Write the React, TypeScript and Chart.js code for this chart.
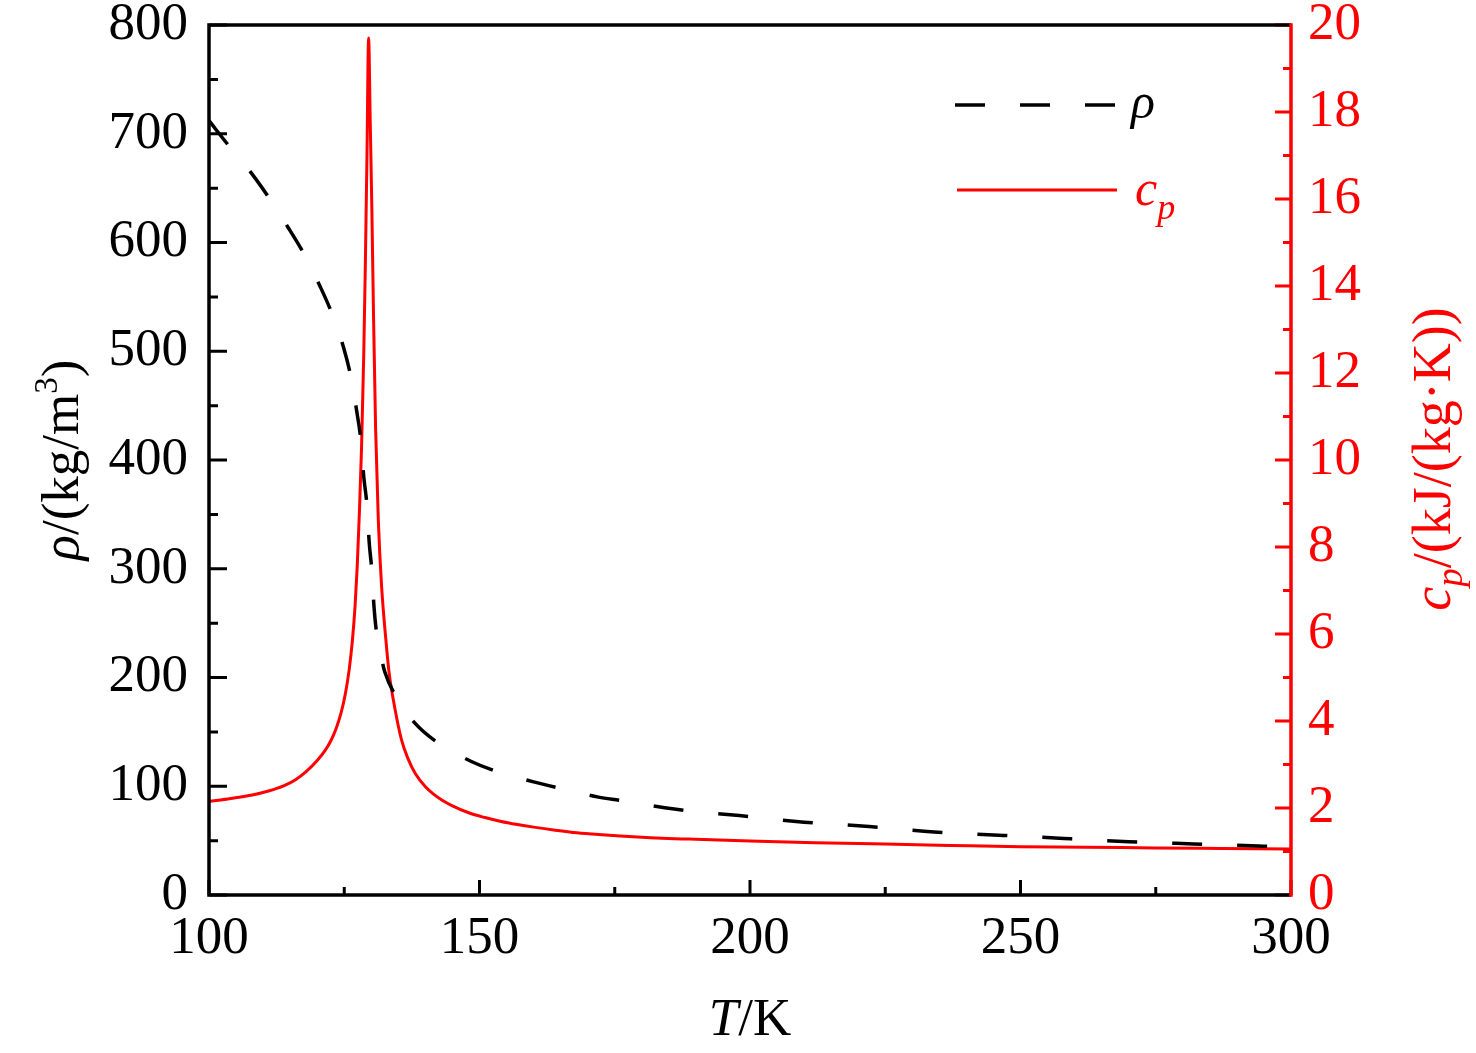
import React, { useEffect, useRef } from 'react';
import { Chart, registerables } from 'chart.js';

Chart.register(...registerables);

// density, kg/m3
const rhoTemps = [100, 103.5, 107.8, 111.1, 114.6, 117.5, 120.5, 122.7, 124.9, 126.2, 127.3, 128.1, 128.6, 129.2, 129.6, 130.1, 130.5, 131.0, 132.0, 132.5, 134.5, 137.9, 142.3, 148.4, 153.5, 160, 165, 172, 176, 186, 198, 210, 222, 234, 246, 258, 270, 282, 294, 300];
const rhoValues = [712, 690, 664, 641, 614, 590, 560, 535, 503, 477, 445, 417, 385, 358, 325, 298, 265, 240, 215, 205, 183, 159, 140, 123, 113, 104, 98, 90, 87, 79, 73, 67, 63, 58, 55, 52, 49, 47, 45, 44];

// specific heat, kJ/(kg K)
const cpTemps = [100, 104, 108, 111, 114, 116, 118, 120, 121.5, 122.5, 123.5, 124.4, 125.2, 125.9, 126.5, 127.0, 127.4, 127.8, 128.2, 128.6, 128.9, 129.2, 129.5, 129.8, 130.1, 130.4, 130.8, 131.3, 131.9, 132.7, 133.3, 134.3, 135.6, 136.8, 138.1, 140, 141.5, 143.1, 145, 148, 151, 154, 157, 160, 164, 168, 172, 180, 190, 200, 212, 225, 237, 250, 262, 275, 287, 300];
const cpValues = [2.15, 2.22, 2.3, 2.39, 2.52, 2.65, 2.84, 3.09, 3.33, 3.54, 3.83, 4.18, 4.62, 5.17, 5.84, 6.64, 7.56, 8.8, 10.3, 12.4, 14.5, 17.0, 19.7, 17.8, 15.8, 13.4, 10.7, 8.6, 7.1, 5.86, 5.1, 4.33, 3.56, 3.13, 2.8, 2.49, 2.32, 2.18, 2.05, 1.89, 1.78, 1.69, 1.62, 1.56, 1.49, 1.43, 1.39, 1.33, 1.28, 1.24, 1.2, 1.17, 1.14, 1.11, 1.1, 1.08, 1.07, 1.06];

const xTickValues = [100, 150, 200, 250, 300];
const rhoTickValues = [0, 100, 200, 300, 400, 500, 600, 700, 800];
const cpTickValues = [0, 2, 4, 6, 8, 10, 12, 14, 16, 18, 20];

const RED = '#ff0000';
const SERIF = '"Liberation Serif", "DejaVu Serif", serif';

type Part = { text: string; size: number; italic?: boolean; dy?: number };

function drawParts(ctx: CanvasRenderingContext2D, parts: Part[], x: number, y: number, center: boolean) {
    const fontOf = (p: Part) => `${p.italic ? 'italic ' : ''}${p.size}px ${SERIF}`;
    let total = 0;
    parts.forEach((p) => {
        ctx.font = fontOf(p);
        total += ctx.measureText(p.text).width;
    });
    let cx = center ? x - total / 2 : x;
    parts.forEach((p) => {
        ctx.font = fontOf(p);
        ctx.fillText(p.text, cx, y + (p.dy || 0));
        cx += ctx.measureText(p.text).width;
    });
}

const framePlugin = {
    id: 'frame',
    afterDraw(chart: any) {
        const { ctx, chartArea } = chart;
        const { left, right, top, bottom } = chartArea;
        const xs = chart.scales.x;
        const ys = chart.scales.y;
        const y1 = chart.scales.y1;
        ctx.save();
        ctx.lineCap = 'butt';
        ctx.setLineDash([]);

        // ticks, pointing inwards
        ctx.lineWidth = 3;
        ctx.strokeStyle = '#000';
        ctx.beginPath();
        for (let v = 100; v <= 300; v += 25) {
            const px = xs.getPixelForValue(v);
            const len = v % 50 === 0 ? 15 : 8;
            ctx.moveTo(px, bottom);
            ctx.lineTo(px, bottom - len);
        }
        for (let v = 0; v <= 800; v += 50) {
            const py = ys.getPixelForValue(v);
            const len = v % 100 === 0 ? 18 : 9;
            ctx.moveTo(left, py);
            ctx.lineTo(left + len, py);
        }
        ctx.stroke();
        ctx.strokeStyle = RED;
        ctx.beginPath();
        for (let v = 0; v <= 20; v += 1) {
            const py = y1.getPixelForValue(v);
            const len = v % 2 === 0 ? 16 : 8;
            ctx.moveTo(right, py);
            ctx.lineTo(right - len, py);
        }
        ctx.stroke();

        // frame
        ctx.lineWidth = 3.5;
        ctx.strokeStyle = '#000';
        ctx.beginPath();
        ctx.moveTo(right, top);
        ctx.lineTo(left, top);
        ctx.lineTo(left, bottom);
        ctx.lineTo(right, bottom);
        ctx.stroke();
        ctx.strokeStyle = RED;
        ctx.beginPath();
        ctx.moveTo(right, top - 1.75);
        ctx.lineTo(right, bottom + 1.75);
        ctx.stroke();

        // legend
        ctx.lineWidth = 3.5;
        ctx.strokeStyle = '#000';
        ctx.setLineDash([30, 35]);
        ctx.beginPath();
        ctx.moveTo(955, 105);
        ctx.lineTo(1115, 105);
        ctx.stroke();
        ctx.setLineDash([]);
        ctx.lineWidth = 3;
        ctx.strokeStyle = RED;
        ctx.beginPath();
        ctx.moveTo(957, 190);
        ctx.lineTo(1117, 190);
        ctx.stroke();

        ctx.textAlign = 'left';
        ctx.textBaseline = 'alphabetic';
        ctx.fillStyle = '#000';
        drawParts(ctx, [{ text: 'ρ', size: 50, italic: true }], 1131, 118, false);
        ctx.fillStyle = RED;
        drawParts(ctx, [
            { text: 'c', size: 50, italic: true },
            { text: 'p', size: 36, italic: true, dy: 14 },
        ], 1135, 205, false);

        // axis titles
        ctx.fillStyle = '#000';
        drawParts(ctx, [
            { text: 'T', size: 53, italic: true },
            { text: '/K', size: 53 },
        ], 750, 1035, true);

        ctx.save();
        ctx.translate(78, 460);
        ctx.rotate(-Math.PI / 2);
        drawParts(ctx, [
            { text: 'ρ', size: 53, italic: true },
            { text: '/(kg/m', size: 53 },
            { text: '3', size: 33, dy: -21 },
            { text: ')', size: 53 },
        ], 0, 0, true);
        ctx.restore();

        ctx.save();
        ctx.fillStyle = RED;
        ctx.translate(1450, 459);
        ctx.rotate(-Math.PI / 2);
        drawParts(ctx, [
            { text: 'c', size: 54, italic: true },
            { text: 'p', size: 37, italic: true, dy: 12 },
            { text: '/(kJ/(kg·K))', size: 54 },
        ], 0, 0, true);
        ctx.restore();

        ctx.restore();
    },
};

const tickFont = { family: SERIF, size: 53 };

const App: React.FC = () => {
    const chartRef = useRef<HTMLCanvasElement>(null);
    const chartInstance = useRef<Chart | null>(null);

    useEffect(() => {
        document.body.style.margin = '0';
        if (chartInstance.current) {
            chartInstance.current.destroy();
        }
        if (chartRef.current) {
            const ctx = chartRef.current.getContext('2d');
            if (ctx) {
                chartInstance.current = new Chart(ctx, {
                    type: 'scatter',
                    data: {
                        datasets: [
                            {
                                label: 'ρ',
                                data: rhoTemps.map((t, i) => ({ x: t, y: rhoValues[i] })),
                                yAxisID: 'y',
                                showLine: true,
                                borderColor: '#000',
                                borderWidth: 3.5,
                                borderDash: [30, 35],
                                pointRadius: 0,
                                cubicInterpolationMode: 'monotone',
                            },
                            {
                                label: 'cp',
                                data: cpTemps.map((t, i) => ({ x: t, y: cpValues[i] })),
                                yAxisID: 'y1',
                                showLine: true,
                                borderColor: RED,
                                borderWidth: 3,
                                pointRadius: 0,
                                cubicInterpolationMode: 'monotone',
                            },
                        ],
                    },
                    options: {
                        animation: false,
                        responsive: true,
                        maintainAspectRatio: false,
                        layout: { padding: { top: 25, left: 0, right: 0, bottom: 0 } },
                        plugins: {
                            legend: { display: false },
                            tooltip: { enabled: false },
                        },
                        scales: {
                            x: {
                                type: 'linear',
                                min: 100,
                                max: 300,
                                grid: { display: false, drawTicks: false },
                                border: { display: false },
                                ticks: { font: tickFont, color: '#000', padding: 12, maxRotation: 0 },
                                afterBuildTicks: (s: any) => {
                                    s.ticks = xTickValues.map((v) => ({ value: v }));
                                },
                                afterFit: (s: any) => {
                                    s.height = 158;
                                    s.paddingLeft = 0;
                                    s.paddingRight = 0;
                                },
                            },
                            y: {
                                type: 'linear',
                                position: 'left',
                                min: 0,
                                max: 800,
                                grid: { display: false, drawTicks: false },
                                border: { display: false },
                                ticks: { font: tickFont, color: '#000', padding: 21 },
                                afterBuildTicks: (s: any) => {
                                    s.ticks = rhoTickValues.map((v) => ({ value: v }));
                                },
                                afterFit: (s: any) => {
                                    s.width = 209;
                                    s.paddingTop = 0;
                                    s.paddingBottom = 0;
                                },
                            },
                            y1: {
                                type: 'linear',
                                position: 'right',
                                min: 0,
                                max: 20,
                                grid: { display: false, drawTicks: false },
                                border: { display: false },
                                ticks: { font: tickFont, color: RED, padding: 17 },
                                afterBuildTicks: (s: any) => {
                                    s.ticks = cpTickValues.map((v) => ({ value: v }));
                                },
                                afterFit: (s: any) => {
                                    s.width = 185;
                                    s.paddingTop = 0;
                                    s.paddingBottom = 0;
                                },
                            },
                        },
                    } as any,
                    plugins: [framePlugin],
                });
            }
        }
        return () => {
            if (chartInstance.current) {
                chartInstance.current.destroy();
                chartInstance.current = null;
            }
        };
    }, []);

    return (
        <div style={{ width: '1476px', height: '1053px', position: 'relative', background: '#fff' }}>
            <canvas ref={chartRef} />
        </div>
    );
};

export default App;
